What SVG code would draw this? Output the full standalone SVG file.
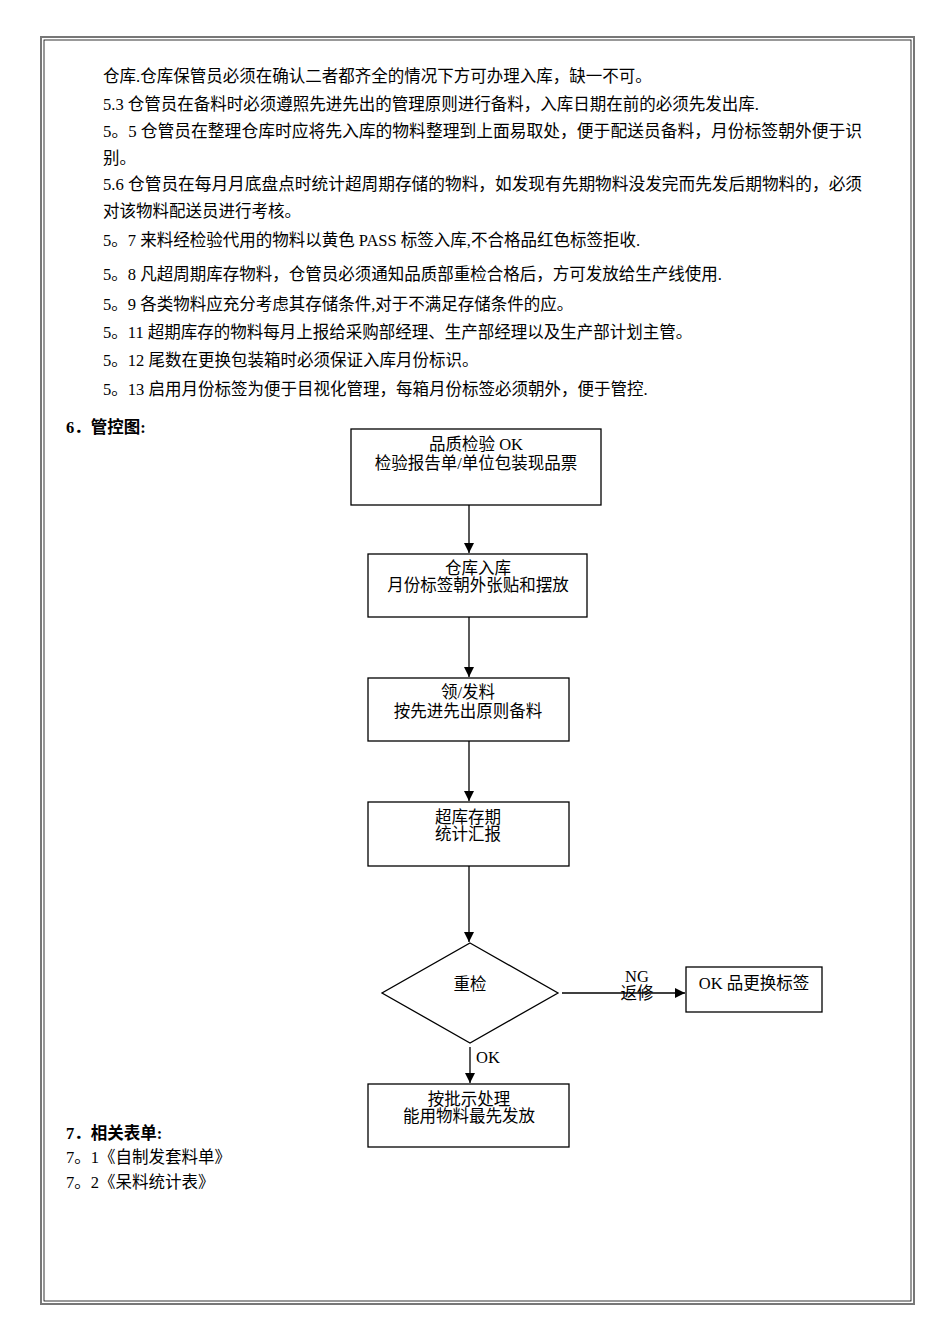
<svg xmlns="http://www.w3.org/2000/svg" width="950" height="1344" viewBox="0 0 950 1344">
<defs>
<style>
text{font-family:"Liberation Serif","Noto Sans CJK SC",serif;font-size:16.5px;fill:#000}
.c{text-anchor:middle}
.b{font-weight:bold}
.n{fill:#fff;stroke:#000;stroke-width:1.3}
.l{stroke:#000;stroke-width:1.3;fill:none}
</style>
<marker id="a" viewBox="0 0 10 10" refX="10" refY="5" markerWidth="8" markerHeight="8" orient="auto"><path d="M0,0L10,5L0,10z" fill="#000"/></marker>
</defs>
<rect width="950" height="1344" fill="#fff"/>
<rect x="41" y="37" width="873" height="1267" fill="none" stroke="#777" stroke-width="2"/>
<rect x="44" y="40" width="867" height="1261" fill="none" stroke="#000" stroke-width="0.8"/>
<g id="body">
<text x="103" y="82">仓库.仓库保管员必须在确认二者都齐全的情况下方可办理入库，缺一不可。</text>
<text x="103" y="110">5.3 仓管员在备料时必须遵照先进先出的管理原则进行备料，入库日期在前的必须先发出库.</text>
<text x="103" y="137" textLength="759" lengthAdjust="spacingAndGlyphs">5。5 仓管员在整理仓库时应将先入库的物料整理到上面易取处，便于配送员备料，月份标签朝外便于识</text>
<text x="103" y="164">别。</text>
<text x="103" y="190" textLength="759" lengthAdjust="spacingAndGlyphs">5.6 仓管员在每月月底盘点时统计超周期存储的物料，如发现有先期物料没发完而先发后期物料的，必须</text>
<text x="103" y="217">对该物料配送员进行考核。</text>
<text x="103" y="246">5。7 来料经检验代用的物料以黄色 PASS 标签入库,不合格品红色标签拒收.</text>
<text x="103" y="280">5。8 凡超周期库存物料，仓管员必须通知品质部重检合格后，方可发放给生产线使用.</text>
<text x="103" y="310">5。9 各类物料应充分考虑其存储条件,对于不满足存储条件的应。</text>
<text x="103" y="338">5。11 超期库存的物料每月上报给采购部经理、生产部经理以及生产部计划主管。</text>
<text x="103" y="366">5。12 尾数在更换包装箱时必须保证入库月份标识。</text>
<text x="103" y="395">5。13 启用月份标签为便于目视化管理，每箱月份标签必须朝外，便于管控.</text>
<text x="66" y="433" class="b">6．管控图:</text>
<text x="66" y="1139" class="b">7．相关表单:</text>
<text x="66" y="1163">7。1《自制发套料单》</text>
<text x="66" y="1188">7。2《呆料统计表》</text>
</g>
<g id="connectors">
<line class="l" x1="469" y1="505" x2="469" y2="553" marker-end="url(#a)"/>
<line class="l" x1="469" y1="617" x2="469" y2="677" marker-end="url(#a)"/>
<line class="l" x1="469" y1="741" x2="469" y2="801" marker-end="url(#a)"/>
<line class="l" x1="469" y1="866" x2="469" y2="942" marker-end="url(#a)"/>
<line class="l" x1="562" y1="993" x2="685" y2="993" marker-end="url(#a)"/>
<line class="l" x1="470" y1="1047" x2="470" y2="1083" marker-end="url(#a)"/>
<text x="637" y="982" class="c">NG</text>
<text x="637" y="999" class="c">返修</text>
<text x="476" y="1063">OK</text>
</g>
<g id="n1"><rect class="n" x="351" y="429" width="250" height="76"/><text x="476" y="450" class="c">品质检验 OK</text><text x="476" y="469" class="c">检验报告单/单位包装现品票</text></g>
<g id="n2"><rect class="n" x="368" y="554" width="219" height="63"/><text x="478" y="574" class="c">仓库入库</text><text x="478" y="591" class="c">月份标签朝外张贴和摆放</text></g>
<g id="n3"><rect class="n" x="368" y="678" width="201" height="63"/><text x="468" y="698" class="c">领/发料</text><text x="468" y="717" class="c">按先进先出原则备料</text></g>
<g id="n4"><rect class="n" x="368" y="802" width="201" height="64"/><text x="468" y="823" class="c">超库存期</text><text x="468" y="840" class="c">统计汇报</text></g>
<g id="n5"><polygon class="n" points="470,943 558,993 470,1043 382,993"/><text x="470" y="990" class="c">重检</text></g>
<g id="n6"><rect class="n" x="686" y="967" width="136" height="45"/><text x="754" y="989" class="c">OK 品更换标签</text></g>
<g id="n7"><rect class="n" x="368" y="1084" width="201" height="63"/><text x="469" y="1105" class="c">按批示处理</text><text x="469" y="1122" class="c">能用物料最先发放</text></g>
</svg>
